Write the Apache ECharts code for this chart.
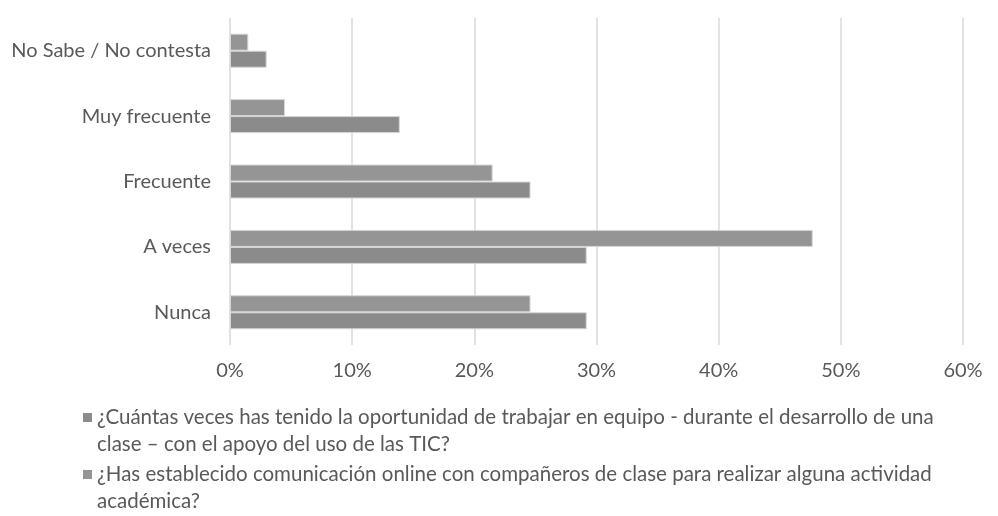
<!DOCTYPE html>
<html>
<head>
<meta charset="utf-8">
<script src="https://cdn.jsdelivr.net/npm/echarts@6/dist/echarts.min.js"></script>
<style>
html,body{margin:0;padding:0;background:#fff;}
#chart{width:998px;height:516px;}
</style>
</head>
<body>
<div id="chart"></div>
<script>
// Categories (bottom to top, as on the category axis)
const categories = ['Nunca', 'A veces', 'Frecuente', 'Muy frecuente', 'No Sabe / No contesta'];

// Series names (legend order)
const seriesNames = [
  '¿Cuántas veces has tenido la oportunidad de trabajar en equipo - durante el desarrollo de una clase – con el apoyo del uso de las TIC?',
  '¿Has establecido comunicación online con compañeros de clase para realizar alguna actividad académica?'
];
// Legend text as wrapped in the picture
const legendLines = [
  ['¿Cuántas veces has tenido la oportunidad de trabajar en equipo - durante el desarrollo de una', 'clase – con el apoyo del uso de las TIC?'],
  ['¿Has establecido comunicación online con compañeros de clase para realizar alguna actividad', 'académica?']
];

// Values in percent, same order as categories
const valuesTrabajoEquipo = [29.2, 29.2, 24.6, 13.9, 3.0];
const valuesComunicacion = [24.6, 47.7, 21.5, 4.5, 1.5];

// X axis ticks
const xMin = 0, xMax = 60, xStep = 10;

const FONT = 'Lato';
const TXT = '#595959';

const chart = echarts.init(document.getElementById('chart'), null, {renderer: 'canvas'});
const iconPath = 'path://M0,0L9,0L9,9L0,9Z M0,36L9,36';

chart.setOption({
  animation: false,
  backgroundColor: '#ffffff',
  textStyle: {fontFamily: FONT},
  grid: {left: 230, right: 35, top: 18, bottom: 171, containLabel: false},
  xAxis: {
    type: 'value', min: xMin, max: xMax, interval: xStep,
    axisLine: {show: false}, axisTick: {show: false},
    axisLabel: {formatter: v => v + '%', color: TXT, fontSize: 20, fontFamily: FONT, margin: 16},
    splitLine: {show: true, lineStyle: {color: '#d9d9d9', width: 1.5}}
  },
  yAxis: {
    type: 'category', data: categories,
    axisLine: {show: false}, axisTick: {show: false},
    axisLabel: {color: TXT, fontSize: 20, fontFamily: FONT, margin: 19}
  },
  legend: {
    orient: 'vertical', left: 83, top: 404, padding: 0, itemGap: 3,
    itemWidth: 9, itemHeight: 36, icon: iconPath,
    data: seriesNames,
    itemStyle: {borderWidth: 0, borderColor: 'transparent'},
    formatter: name => legendLines[seriesNames.indexOf(name)].join('\n'),
    textStyle: {color: TXT, fontSize: 20.5, fontFamily: FONT, lineHeight: 27}
  },
  series: [
    {
      name: seriesNames[1], type: 'bar', data: valuesComunicacion,
      barWidth: 17, barGap: '0%',
      itemStyle: {color: '#959595', borderColor: '#d6d6d6', borderWidth: 1}
    },
    {
      name: seriesNames[0], type: 'bar', data: valuesTrabajoEquipo,
      barWidth: 17, barGap: '0%',
      itemStyle: {color: '#8b8b8b', borderColor: '#d6d6d6', borderWidth: 1}
    }
  ]
});
</script>
</body>
</html>
